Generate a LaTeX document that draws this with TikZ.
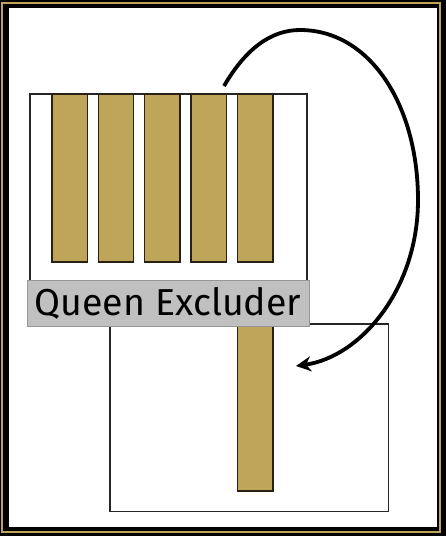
\documentclass[tikz,border=0pt]{standalone}
\usepackage{fontspec}
\setsansfont{Fira Sans}
\usetikzlibrary{arrows.meta}
\definecolor{goldbar}{RGB}{190,165,90}
\definecolor{labelgrey}{RGB}{192,192,192}
\definecolor{labeledge}{RGB}{150,150,150}
\tikzset{
  hive/.style={draw=black!85, line width=1.2pt, fill=white},
  frame/.style={draw=black!80!goldbar, line width=1.3pt, fill=goldbar},
  label box/.style={fill=labelgrey, draw=labeledge, line width=0.8pt},
  move/.style={draw=black, line width=3.8pt, -{Stealth[length=15pt,width=15pt]}}
}
\begin{document}
\begin{tikzpicture}[x=1pt,y=-1pt]
  % outer frame
  \fill[black] (0,0) rectangle (446,536);
  \draw[goldbar, line width=2.2pt] (2.2,2.9) rectangle (440.3,532);
  \fill[white] (8.5,8.4) rectangle (437.2,526.8);
  \useasboundingbox (0,0) rectangle (446,536);
  % upper box and frames
  \draw[hive] (30,94) rectangle (307,290);
  \foreach \i/\x in {1/52,2/98.3,3/144.6,4/191,5/237.5}{
    \path[frame] (\x,94) rectangle ++(35.5,168) coordinate (f\i);
  }
  % lower box
  \draw[hive] (110,324) rectangle (388.5,511.5);
  \path[frame] (237.5,320) rectangle (273,491);
  % label
  \node[label box, minimum width=282pt, minimum height=46pt, inner sep=0pt, anchor=north west]
    (qe) at (27.3,280) {};
  \node[anchor=base west, inner sep=0pt, font=\sffamily\fontsize{37.5}{37.5}\selectfont]
    (qet) at (34.5,315.5) {Queen Excluder};
  % arrow
  \coordinate (s) at (224,86);
  \coordinate (e) at (296,366);
  \draw[move] (s) .. controls (245,50) and (270,30) .. (300,30)
      .. controls (370,30) and (418,105) .. (418,200)
      .. controls (418,290) and (360,357) .. (e);
\end{tikzpicture}
\end{document}
